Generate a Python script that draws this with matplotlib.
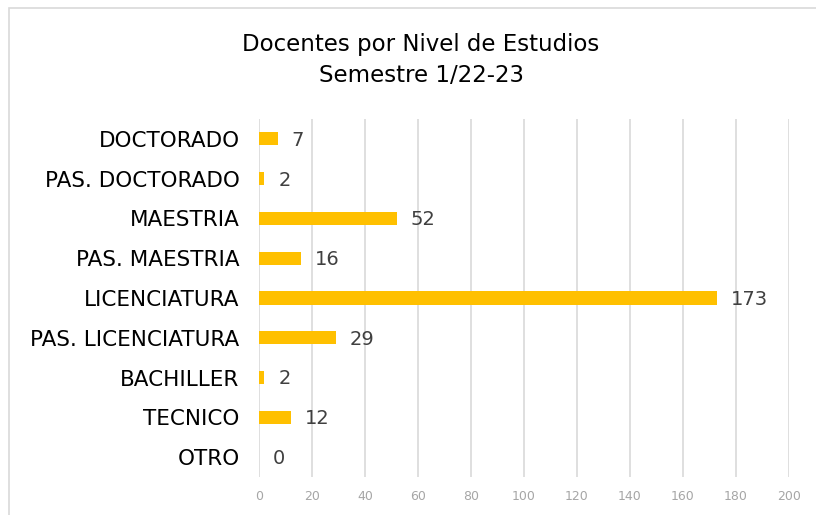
import matplotlib
matplotlib.use("Agg")
import matplotlib.pyplot as plt
from matplotlib.patches import Rectangle

categories = ["DOCTORADO", "PAS. DOCTORADO", "MAESTRIA", "PAS. MAESTRIA",
              "LICENCIATURA", "PAS. LICENCIATURA", "BACHILLER", "TECNICO", "OTRO"]
values = [7, 2, 52, 16, 173, 29, 2, 12, 0]
xticks = [0, 20, 40, 60, 80, 100, 120, 140, 160, 180, 200]

plt.rcParams['font.family'] = ['DejaVu Sans']

fig = plt.figure(figsize=(8.16, 5.15), dpi=100)
fig.patch.set_facecolor('white')
# outer chart border (cut off at right and bottom)
fig.add_artist(Rectangle((9/816, -0.1), 1.2, 1 - 8/515 + 0.1, transform=fig.transFigure,
                         fill=False, edgecolor='#d9d9d9', linewidth=1.2))

ax = fig.add_axes([259/816, 1 - 477/515, 530/816, 358/515])
n = len(categories)
ypos = list(range(n - 1, -1, -1))
ax.barh(ypos, values, height=0.33, color='#FFC000', zorder=3)
ax.set_ylim(-0.5, n - 0.5)
ax.set_xlim(0, 200)
ax.set_xticks(xticks)
ax.set_xticklabels([str(t) for t in xticks], color='#A6A6A6', fontsize=9)
ax.set_yticks(ypos)
ax.set_yticklabels(categories, fontsize=15.5, color='black')
ax.tick_params(axis='both', length=0)
ax.tick_params(axis='x', pad=9)
ax.tick_params(axis='y', pad=14)
ax.grid(axis='x', color='#d9d9d9', linewidth=1.2, zorder=0)
for s in ax.spines.values():
    s.set_visible(False)

for y, v in zip(ypos, values):
    ax.annotate(str(v), (v, y), xytext=(10, -1), textcoords='offset points',
                ha='left', va='center', fontsize=14, color='#404040')

fig.text(0.516, 1 - 44/515, "Docentes por Nivel de Estudios", ha='center', va='center',
         fontsize=16.5, color='black')
fig.text(0.516, 1 - 76/515, "Semestre 1/22-23", ha='center', va='center',
         fontsize=16.5, color='black')

fig.savefig("out.png", dpi=100, facecolor='white')
